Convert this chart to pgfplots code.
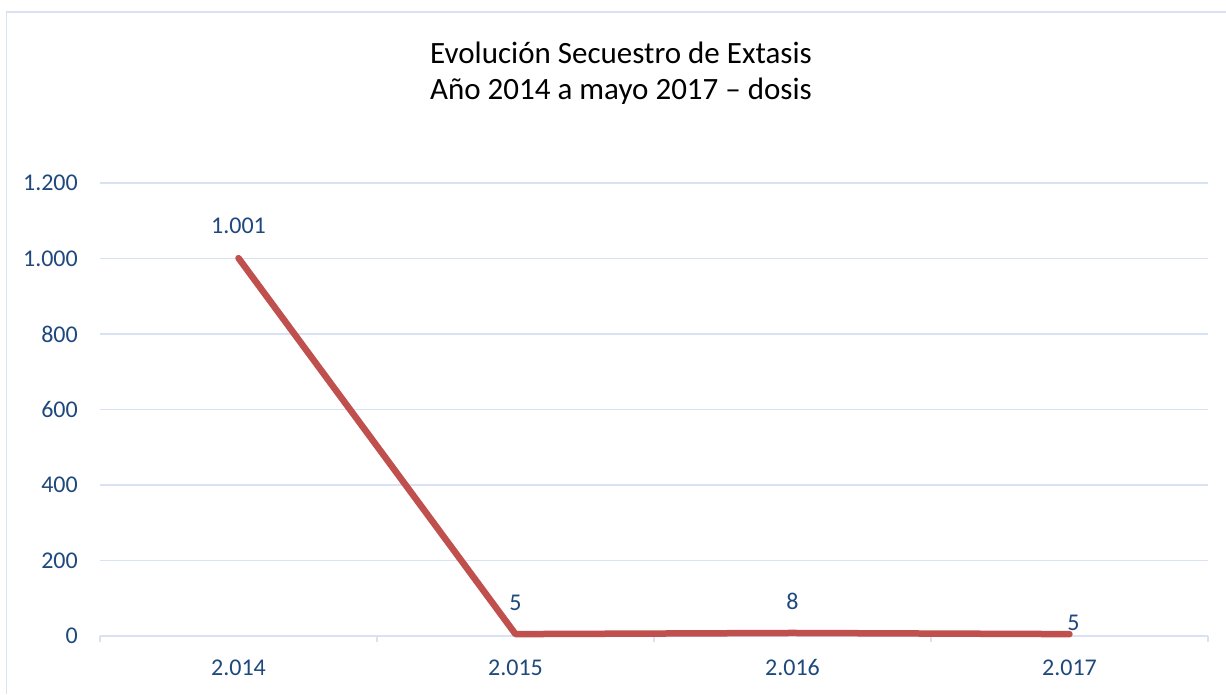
\documentclass[border=0pt]{standalone}
\usepackage{pgfplots}
\pgfplotsset{compat=1.18}
\usepackage{fontspec}
\setmainfont{Carlito}
\definecolor{txt}{HTML}{1F497D}
\definecolor{gridc}{HTML}{D9E2F3}
\definecolor{ln}{HTML}{C0504D}
\begin{document}
\begin{tikzpicture}[x=1pt,y=1pt]
\useasboundingbox (0,0) rectangle (1226,694);
\fill[white] (0,0) rectangle (1226,694);
\draw[color=gridc, line width=1.5pt] (6.5,0) -- (6.5,682) -- (1226,682);
\node[font=\fontsize{31}{36}\selectfont, anchor=base, inner sep=0pt] at (621,630) {Evolución Secuestro de Extasis};
\node[font=\fontsize{31}{36}\selectfont, anchor=base, inner sep=0pt] at (621,594) {Año 2014 a mayo 2017 – dosis};
\begin{axis}[
  at={(100pt,58pt)}, anchor=south west,
  scale only axis, width=1108pt, height=453pt,
  xmin=-0.5, xmax=3.5, ymin=0, ymax=1200,
  clip=false,
  axis lines*=left,
  y axis line style={draw=none},
  x axis line style={draw=gridc, line width=1.2pt},
  ymajorgrids, grid style={draw=gridc, line width=1.2pt},
  ytick={0,200,...,1200},
  xtick={0,1,2,3},
  xticklabels={2.014,2.015,2.016,2.017},
  minor xtick={-0.5,0.5,1.5,2.5,3.5},
  major tick length=0pt,
  minor tick length=6pt,
  tick align=outside,
  minor x tick style={draw=gridc, line width=1.2pt},
  major tick style={draw=none},
  /pgf/number format/.cd, 1000 sep={.}, assume math mode=true, /pgfplots/.cd,
  ticklabel style={font=\fontsize{24}{28}\selectfont, text=txt, inner sep=0pt},
  xticklabel style={anchor=base, yshift=-39pt},
  yticklabel style={anchor=east, xshift=-22pt},
]
\addplot[color=ln, line width=6.5pt, line join=round, line cap=round] coordinates {(0,1001) (1,5) (2,8) (3,5)};
\node[anchor=base, font=\fontsize{24}{28}\selectfont, text=txt, inner sep=0pt, yshift=25pt] at (axis cs:0,1001) {1.001};
\node[anchor=base, font=\fontsize{24}{28}\selectfont, text=txt, inner sep=0pt, yshift=24pt] at (axis cs:1,5) {5};
\node[anchor=base, font=\fontsize{24}{28}\selectfont, text=txt, inner sep=0pt, yshift=23pt] at (axis cs:2,8) {8};
\node[anchor=base, font=\fontsize{24}{28}\selectfont, text=txt, inner sep=0pt, yshift=4pt, xshift=4pt] at (axis cs:3,5) {5};
\end{axis}
\end{tikzpicture}
\end{document}
